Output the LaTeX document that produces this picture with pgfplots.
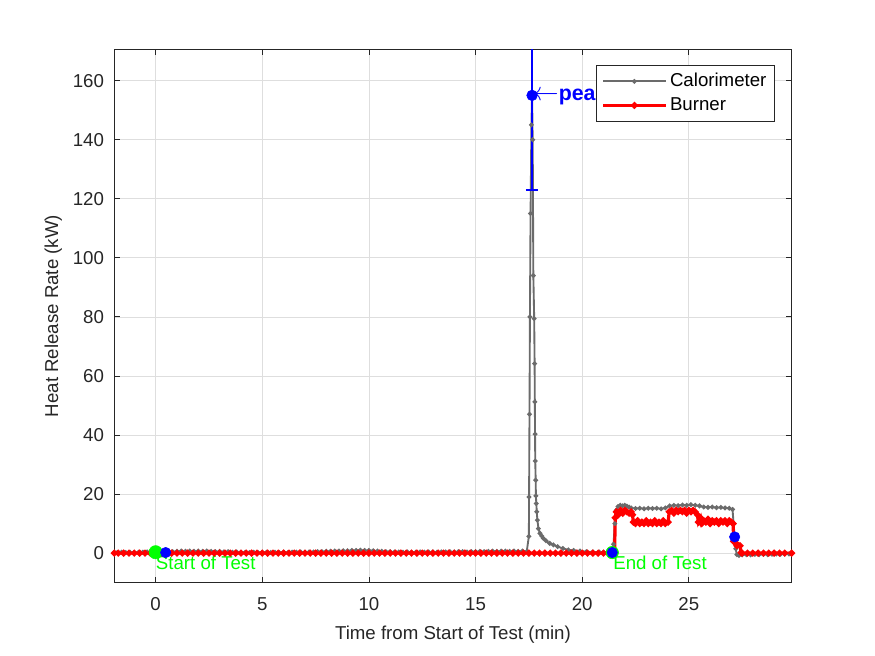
\documentclass[border=0pt]{standalone}
\usepackage{fontspec}
\setmainfont{Liberation Sans}
\usepackage{pgfplots}
\pgfplotsset{compat=1.18}
\definecolor{axgray}{rgb}{0.15,0.15,0.15}
\definecolor{calgray}{rgb}{0.42,0.42,0.42}
\definecolor{gridgray}{rgb}{0.87,0.87,0.87}
\newcommand{\fs}{\fontsize{14}{16.8}\selectfont}
\begin{document}
\begin{tikzpicture}
\useasboundingbox (0,0) rectangle (656.25pt,492pt);
\begin{axis}[
  at={(85.7pt,55pt)}, anchor=south west,
  scale only axis, width=508pt, height=400pt,
  xmin=-1.94, xmax=29.82, ymin=-10, ymax=170.6,
  xtick={0,5,...,25}, ytick={0,20,...,160},
  /pgf/number format/assume math mode=true,
  tick label style={font=\fs, text=axgray, inner sep=0pt},
  xticklabel style={yshift=-11pt},
  yticklabel style={xshift=-7.5pt},
  tick align=inside, major tick length=4.5pt,
  tick style={axgray, line width=0.6pt},
  axis line style={axgray, line width=0.75pt},
  grid=major, major grid style={gridgray, line width=0.5pt},
  xlabel={Time from Start of Test (min)},
  ylabel={Heat Release Rate (kW)},
  label style={font=\fs, text=axgray},
  xlabel style={at={(axis description cs:0.5,-0.1075)}, anchor=base},
  ylabel style={at={(axis description cs:-0.0827,0.5)}, anchor=base},
  legend style={at={(axis description cs:0.9753,0.9706)}, anchor=north east,
    draw=axgray, line width=0.6pt, fill=white, font=\fs,
    inner xsep=4pt, inner ysep=3pt,
    nodes={inner sep=2pt, text height=10.5pt, text depth=3.5pt},
    cells={anchor=west}},
  legend image code/.code={\draw[mark repeat=2,mark phase=2] plot coordinates {(0pt,0pt) (23.5pt,0pt) (47pt,0pt)};},
]
\addplot[calgray, line width=1.4pt, mark=*, mark size=1.0pt, mark options={solid, fill=calgray, draw=calgray}] coordinates {
(-1.94,0.3) (-1.8,0.2) (-1.6,0.3) (-1.4,0.2) (-1.2,0.3) (-1.0,0.2) (-0.8,0.3) (-0.6,0.3) (-0.4,0.4) (-0.2,0.3)
(0.0,0.4) (0.2,0.5) (0.4,0.5) (0.6,0.6) (0.8,0.5) (1.0,0.6) (1.2,0.7) (1.4,0.6) (1.6,0.7) (1.8,0.6)
(2.0,0.7) (2.2,0.6) (2.4,0.7) (2.6,0.6) (2.8,0.5) (3.0,0.6) (3.2,0.4) (3.4,0.5) (3.6,0.3) (3.8,0.4)
(4.0,0.3) (4.2,0.3) (4.4,0.2) (4.6,0.3) (4.8,0.2) (5.0,0.3) (5.2,0.3) (5.4,0.2) (5.6,0.3) (5.8,0.2)
(6.0,0.3) (6.2,0.2) (6.4,0.3) (6.6,0.3) (6.8,0.4) (7.0,0.3) (7.2,0.4) (7.4,0.4) (7.6,0.5) (7.8,0.5)
(8.0,0.6) (8.2,0.6) (8.4,0.7) (8.6,0.7) (8.8,0.8) (9.0,0.8) (9.2,0.9) (9.4,0.9) (9.6,1.0) (9.8,0.9)
(10.0,0.9) (10.2,0.8) (10.4,0.7) (10.6,0.6) (10.8,0.5) (11.0,0.5) (11.2,0.4) (11.4,0.4) (11.6,0.3) (11.8,0.4)
(12.0,0.3) (12.2,0.3) (12.4,0.4) (12.6,0.3) (12.8,0.4) (13.0,0.4) (13.2,0.3) (13.4,0.4) (13.6,0.4) (13.8,0.5)
(14.0,0.4) (14.2,0.5) (14.4,0.5) (14.6,0.4) (14.8,0.5) (15.0,0.5) (15.2,0.6) (15.4,0.5) (15.6,0.6) (15.8,0.7)
(16.0,0.6) (16.2,0.7) (16.4,0.7) (16.6,0.6) (16.8,0.7) (17.0,0.6) (17.2,0.7) (17.4,0.5)
(17.50,5.7) (17.51,19) (17.53,47) (17.55,80) (17.58,115) (17.62,145) (17.65,155) (17.68,140) (17.71,94)
(17.75,79.4) (17.77,64.2) (17.78,51.2) (17.79,40.3) (17.80,31.2) (17.82,24.7) (17.83,19.4) (17.85,16.8)
(17.87,14) (17.90,11.2) (17.95,8.3) (18.02,6.7) (18.10,5.8) (18.18,5.0) (18.3,4.2) (18.48,3.3) (18.65,2.8)
(18.85,2.2) (19.1,1.6) (19.35,1.1) (19.6,0.9) (19.9,0.7) (20.2,0.5) (20.5,0.4) (20.8,0.4) (21.0,0.3) (21.2,0.3)
(21.41,0.2) (21.47,3) (21.53,10) (21.6,14.5) (21.68,15.8) (21.78,16.2) (21.9,16.0) (22.0,16.2) (22.1,15.9)
(22.2,15.6) (22.3,15.3) (22.5,15.1) (22.7,15.2) (22.9,15.0) (23.1,15.2) (23.3,15.1) (23.5,15.2) (23.7,15.0)
(23.9,15.3) (24.1,16.0) (24.3,16.2) (24.5,16.1) (24.7,16.3) (24.9,16.2) (25.1,16.4) (25.3,16.2) (25.5,16.0)
(25.7,15.6) (25.9,15.5) (26.1,15.6) (26.3,15.4) (26.5,15.5) (26.7,15.3) (26.9,15.2) (27.05,14.8) (27.1,10)
(27.15,5.5) (27.2,1.5) (27.25,-0.5) (27.35,-0.8) (27.5,-0.6) (27.7,-0.5) (27.9,-0.6) (28.1,-0.4) (28.3,-0.5)
(28.5,-0.4) (28.7,-0.5) (28.9,-0.4) (29.1,-0.3) (29.3,-0.4) (29.5,-0.3) (29.7,-0.3) (29.82,-0.2)
};
\addlegendentry{Calorimeter}
\addplot[red, line width=2.4pt, mark=*, mark size=1.15pt, mark options={solid, fill=red, draw=red}] coordinates {
(-1.94,0) (-1.75,0) (-1.5,0) (-1.25,0) (-1.0,0) (-0.75,0) (-0.5,0) (-0.25,0) (0,0) (0.25,0) (0.5,0) (0.75,0)
(1.0,0) (1.25,0) (1.5,0) (1.75,0) (2.0,0) (2.25,0) (2.5,0) (2.75,0) (3.0,0) (3.25,0) (3.5,0) (3.75,0)
(4.0,0) (4.25,0) (4.5,0) (4.75,0) (5.0,0) (5.25,0) (5.5,0) (5.75,0) (6.0,0) (6.25,0) (6.5,0) (6.75,0)
(7.0,0) (7.25,0) (7.5,0) (7.75,0) (8.0,0) (8.25,0) (8.5,0) (8.75,0) (9.0,0) (9.25,0) (9.5,0) (9.75,0)
(10.0,0) (10.25,0) (10.5,0) (10.75,0) (11.0,0) (11.25,0) (11.5,0) (11.75,0) (12.0,0) (12.25,0) (12.5,0) (12.75,0)
(13.0,0) (13.25,0) (13.5,0) (13.75,0) (14.0,0) (14.25,0) (14.5,0) (14.75,0) (15.0,0) (15.25,0) (15.5,0) (15.75,0)
(16.0,0) (16.25,0) (16.5,0) (16.75,0) (17.0,0) (17.25,0) (17.5,0) (17.75,0) (18.0,0) (18.25,0) (18.5,0) (18.75,0)
(19.0,0) (19.25,0) (19.5,0) (19.75,0) (20.0,0) (20.25,0) (20.5,0) (20.75,0) (21.0,0) (21.25,0) (21.52,0)
(21.55,12) (21.6,14) (21.7,13) (21.8,14.5) (21.9,13.5) (22.0,14.5) (22.1,14) (22.2,13.5) (22.3,14) (22.36,13)
(22.4,10.5) (22.5,10) (22.6,11) (22.7,10) (22.8,10.5) (22.9,10) (23.0,11) (23.1,10) (23.2,10.5) (23.3,10)
(23.4,11) (23.5,10) (23.6,10.5) (23.7,10) (23.8,11) (23.9,10) (24.03,10.5) (24.08,14) (24.2,14.5) (24.3,13.5)
(24.4,14.5) (24.5,14) (24.6,14.5) (24.7,14) (24.8,14.5) (24.9,13.5) (25.0,14.5) (25.1,14) (25.2,14.5) (25.3,14)
(25.4,13) (25.45,10.5) (25.55,12) (25.6,10) (25.7,11) (25.8,10.5) (25.9,11.5) (26.0,10) (26.1,11) (26.2,10.5)
(26.3,11) (26.4,10) (26.5,11) (26.6,10.5) (26.7,11) (26.8,10) (26.9,11) (27.0,10.5) (27.08,10) (27.1,4)
(27.2,3.5) (27.25,2.5) (27.4,2.5) (27.45,0.2) (27.5,0) (27.75,0) (28.0,0) (28.25,0) (28.5,0) (28.75,0)
(29.0,0) (29.25,0) (29.5,0) (29.82,0)
};
\addlegendentry{Burner}
% peak uncertainty bar (vertical line and lower cap)
\addplot[blue, line width=1pt, forget plot] coordinates {(17.65,123) (17.65,200)};
\addplot[blue, line width=1pt, forget plot] coordinates {(17.36,123) (17.94,123)};
% peak marker
\addplot[only marks, mark=*, mark size=4pt, mark options={fill=blue, draw=blue}, forget plot] coordinates {(17.65,155)};
% green markers
\addplot[only marks, mark=*, mark size=5pt, mark options={fill=green, draw=green}, forget plot] coordinates {(0,0.3)};
\addplot[only marks, mark=*, mark size=4.7pt, mark options={fill=green, draw=green}, forget plot] coordinates {(21.41,0.2)};
% blue markers
\addplot[only marks, mark=*, mark size=3.9pt, mark options={fill=blue, draw=blue}, forget plot] coordinates {(0.47,0.2) (21.41,0.2) (27.15,5.5)};
\node[anchor=north west, inner sep=0pt, text=green, font=\fs] at (axis cs:0,-1) {Start of Test};
\node[anchor=north west, inner sep=0pt, text=green, font=\fs] at (axis cs:21.45,-1) {End of Test};
\node[anchor=west, inner sep=0pt, text=blue, font=\fontsize{16}{19}\selectfont\bfseries, xshift=0.5pt] at (axis cs:17.65,155) {\scalebox{1.12}{$\leftarrow$}peak};
\end{axis}
\end{tikzpicture}
\end{document}
